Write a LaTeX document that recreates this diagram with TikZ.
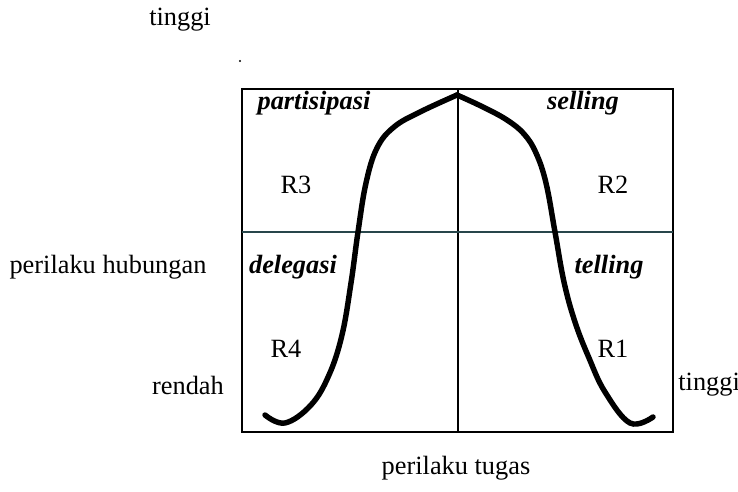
\documentclass[tikz,border=0pt]{standalone}
\usepackage{fontspec}
\setmainfont{Liberation Serif}
\definecolor{garis}{RGB}{40,70,75}
\begin{document}
\begin{tikzpicture}[x=0.02cm, y=-0.02cm,
		lbl/.style={font=\fontsize{15}{18}\selectfont, inner sep=0pt},
		gaya/.style={lbl, font=\fontsize{15}{18}\selectfont\bfseries\itshape}]
			\useasboundingbox (0,0) rectangle (738,492);
			% kotak dan sumbu
			\draw[line width=1.1pt] (242,89) rectangle (673,432);
			\draw[line width=1pt] (458,89) -- (458,432);
			\draw[line width=1pt, garis] (242,232) -- (673,232);
			% kurva
			\draw[line width=3.1pt, line cap=round] plot[smooth, tension=0.65] coordinates {(265,415) (285,423) (311,405) (329,375) (342,335) (351,283) (358,232) (366,183) (377,148) (394,127) (420,112) (457,95)};
			\draw[line width=3.1pt, line cap=round] plot[smooth, tension=0.65] coordinates {(457,95) (483,107) (507,120) (524,134) (536,153) (546,183) (555,232) (564,282) (575,322) (589,358) (605,392) (630,423) (653,417)};
			\fill (240,61) circle (1.2);
			% label sumbu
			\node[lbl] (ytinggi) at (180,20) {tinggi};
			\node[lbl] (yhub) at (108,267) {perilaku hubungan};
			\node[lbl] (xrendah) at (188,385) {rendah};
			\node[lbl, anchor=west] (xtinggi) at (678,385) {tinggi};
			\node[lbl] (xtugas) at (456,468) {perilaku tugas};
			% gaya kepemimpinan
			\node[gaya] (partisipasi) at (314,103) {partisipasi};
			\node[gaya] (selling) at (583,103) {selling};
			\node[gaya] (delegasi) at (293,267) {delegasi};
			\node[gaya] (telling) at (609,267) {telling};
			\node[lbl] (r3) at (296,185) {R3};
			\node[lbl] (r2) at (613,185) {R2};
			\node[lbl] (r4) at (286,349) {R4};
			\node[lbl] (r1) at (613,349) {R1};
		\end{tikzpicture}
\end{document}
